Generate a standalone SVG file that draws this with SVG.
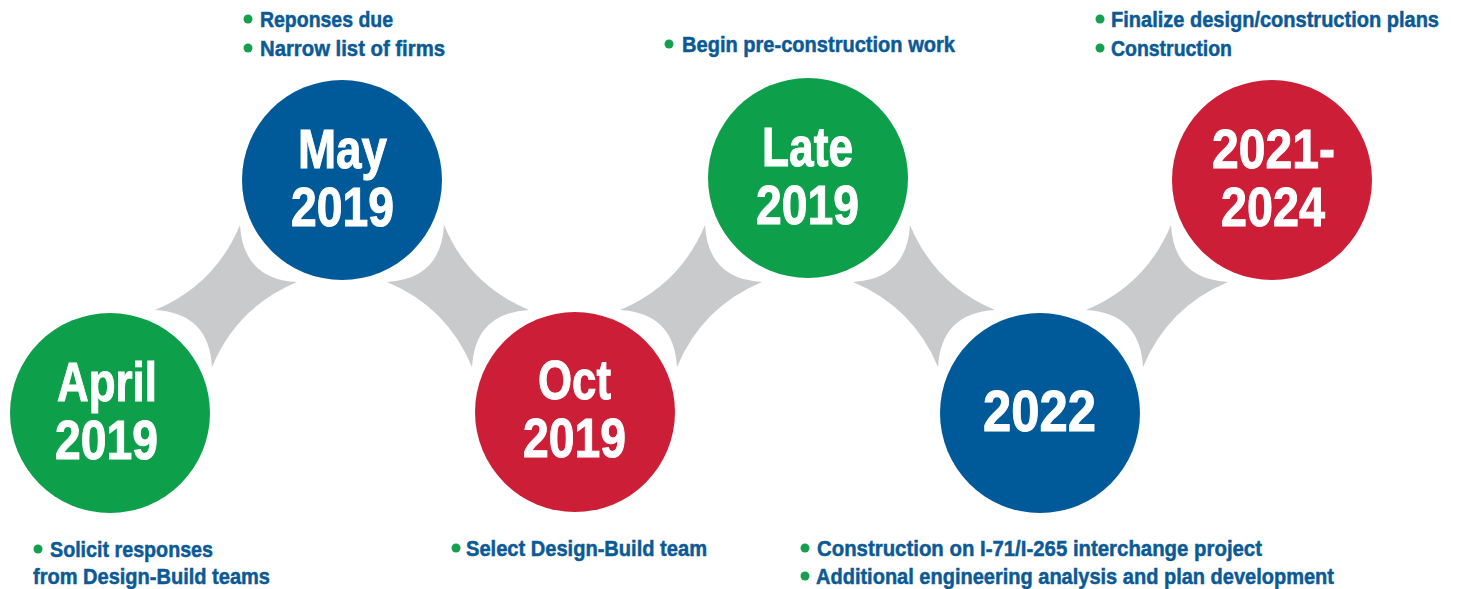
<svg xmlns="http://www.w3.org/2000/svg" width="1457" height="589" viewBox="0 0 1457 589">
<style>
.bg{fill:#ffffff}
.star{fill:#c9cacc}
.ring{fill:#ffffff}
.green{fill:#0e9f4b}
.blue{fill:#005a9a}
.red{fill:#cc1f37}
.lbl{font-family:"Liberation Sans",Arial,sans-serif;font-weight:bold;font-size:55px;fill:#ffffff;stroke:#ffffff;stroke-width:1}
.big{font-size:58px}
.note{font-family:"Liberation Sans",Arial,sans-serif;font-weight:bold;font-size:22px;fill:#0b5a96;stroke:#0b5a96;stroke-width:0.5}
.dot{fill:#15a04f}
</style>
<defs>
<path id="starUp" d="M14,-71 Q17,-17 71,-14 Q11,11 -14,71 Q-17,17 -71,14 Q-11,-11 14,-71 Z"/>
</defs>
<rect class="bg" x="0" y="0" width="1457" height="589"/>
<g id="connectors">
<use href="#starUp" class="star" transform="translate(226,296)"/>
<use href="#starUp" class="star" transform="translate(458,296) scale(-1,1)"/>
<use href="#starUp" class="star" transform="translate(691,296)"/>
<use href="#starUp" class="star" transform="translate(924,296) scale(-1,1)"/>
<use href="#starUp" class="star" transform="translate(1157,296)"/>
</g>
<g id="node-april-2019">
<circle class="ring" cx="110" cy="413" r="109"/>
<circle class="green" cx="110" cy="413" r="100"/>
<text class="lbl" x="57" y="401" textLength="100" lengthAdjust="spacingAndGlyphs">April</text>
<text class="lbl" x="55" y="459" textLength="103" lengthAdjust="spacingAndGlyphs">2019</text>
<circle class="dot" cx="38" cy="549" r="4.5"/>
<text class="note" x="50" y="557" textLength="163" lengthAdjust="spacingAndGlyphs">Solicit responses</text>
<text class="note" x="33" y="584" textLength="237" lengthAdjust="spacingAndGlyphs">from Design-Build teams</text>
</g>
<g id="node-may-2019">
<circle class="ring" cx="342" cy="180" r="109"/>
<circle class="blue" cx="342" cy="180" r="100"/>
<text class="lbl" x="298" y="168" textLength="89" lengthAdjust="spacingAndGlyphs">May</text>
<text class="lbl" x="291" y="226" textLength="103" lengthAdjust="spacingAndGlyphs">2019</text>
<circle class="dot" cx="248" cy="19" r="4.5"/>
<text class="note" x="260" y="27" textLength="133" lengthAdjust="spacingAndGlyphs">Reponses due</text>
<circle class="dot" cx="248" cy="48" r="4.5"/>
<text class="note" x="260" y="56" textLength="185" lengthAdjust="spacingAndGlyphs">Narrow list of firms</text>
</g>
<g id="node-oct-2019">
<circle class="ring" cx="575" cy="412" r="109"/>
<circle class="red" cx="575" cy="412" r="100"/>
<text class="lbl" x="538" y="399" textLength="73" lengthAdjust="spacingAndGlyphs">Oct</text>
<text class="lbl" x="523" y="457" textLength="103" lengthAdjust="spacingAndGlyphs">2019</text>
<circle class="dot" cx="456" cy="548" r="4.5"/>
<text class="note" x="466" y="556" textLength="241" lengthAdjust="spacingAndGlyphs">Select Design-Build team</text>
</g>
<g id="node-late-2019">
<circle class="ring" cx="808" cy="178" r="109"/>
<circle class="green" cx="808" cy="178" r="100"/>
<text class="lbl" x="762" y="166" textLength="91" lengthAdjust="spacingAndGlyphs">Late</text>
<text class="lbl" x="756" y="224" textLength="103" lengthAdjust="spacingAndGlyphs">2019</text>
<circle class="dot" cx="669" cy="44" r="4.5"/>
<text class="note" x="682" y="52" textLength="273" lengthAdjust="spacingAndGlyphs">Begin pre-construction work</text>
</g>
<g id="node-2022">
<circle class="ring" cx="1040" cy="413" r="109"/>
<circle class="blue" cx="1040" cy="413" r="100"/>
<text class="lbl big" x="983" y="431" textLength="113" lengthAdjust="spacingAndGlyphs">2022</text>
<circle class="dot" cx="805" cy="548" r="4.5"/>
<text class="note" x="817" y="556" textLength="445" lengthAdjust="spacingAndGlyphs">Construction on I-71/I-265 interchange project</text>
<circle class="dot" cx="805" cy="576" r="4.5"/>
<text class="note" x="816" y="584" textLength="518" lengthAdjust="spacingAndGlyphs">Additional engineering analysis and plan development</text>
</g>
<g id="node-2021-2024">
<circle class="ring" cx="1272" cy="180" r="109"/>
<circle class="red" cx="1272" cy="180" r="100"/>
<text class="lbl" x="1212" y="168" textLength="123" lengthAdjust="spacingAndGlyphs">2021-</text>
<text class="lbl" x="1221" y="226" textLength="104" lengthAdjust="spacingAndGlyphs">2024</text>
<circle class="dot" cx="1100" cy="19" r="4.5"/>
<text class="note" x="1111" y="27" textLength="328" lengthAdjust="spacingAndGlyphs">Finalize design/construction plans</text>
<circle class="dot" cx="1100" cy="48" r="4.5"/>
<text class="note" x="1111" y="56" textLength="121" lengthAdjust="spacingAndGlyphs">Construction</text>
</g>
</svg>
